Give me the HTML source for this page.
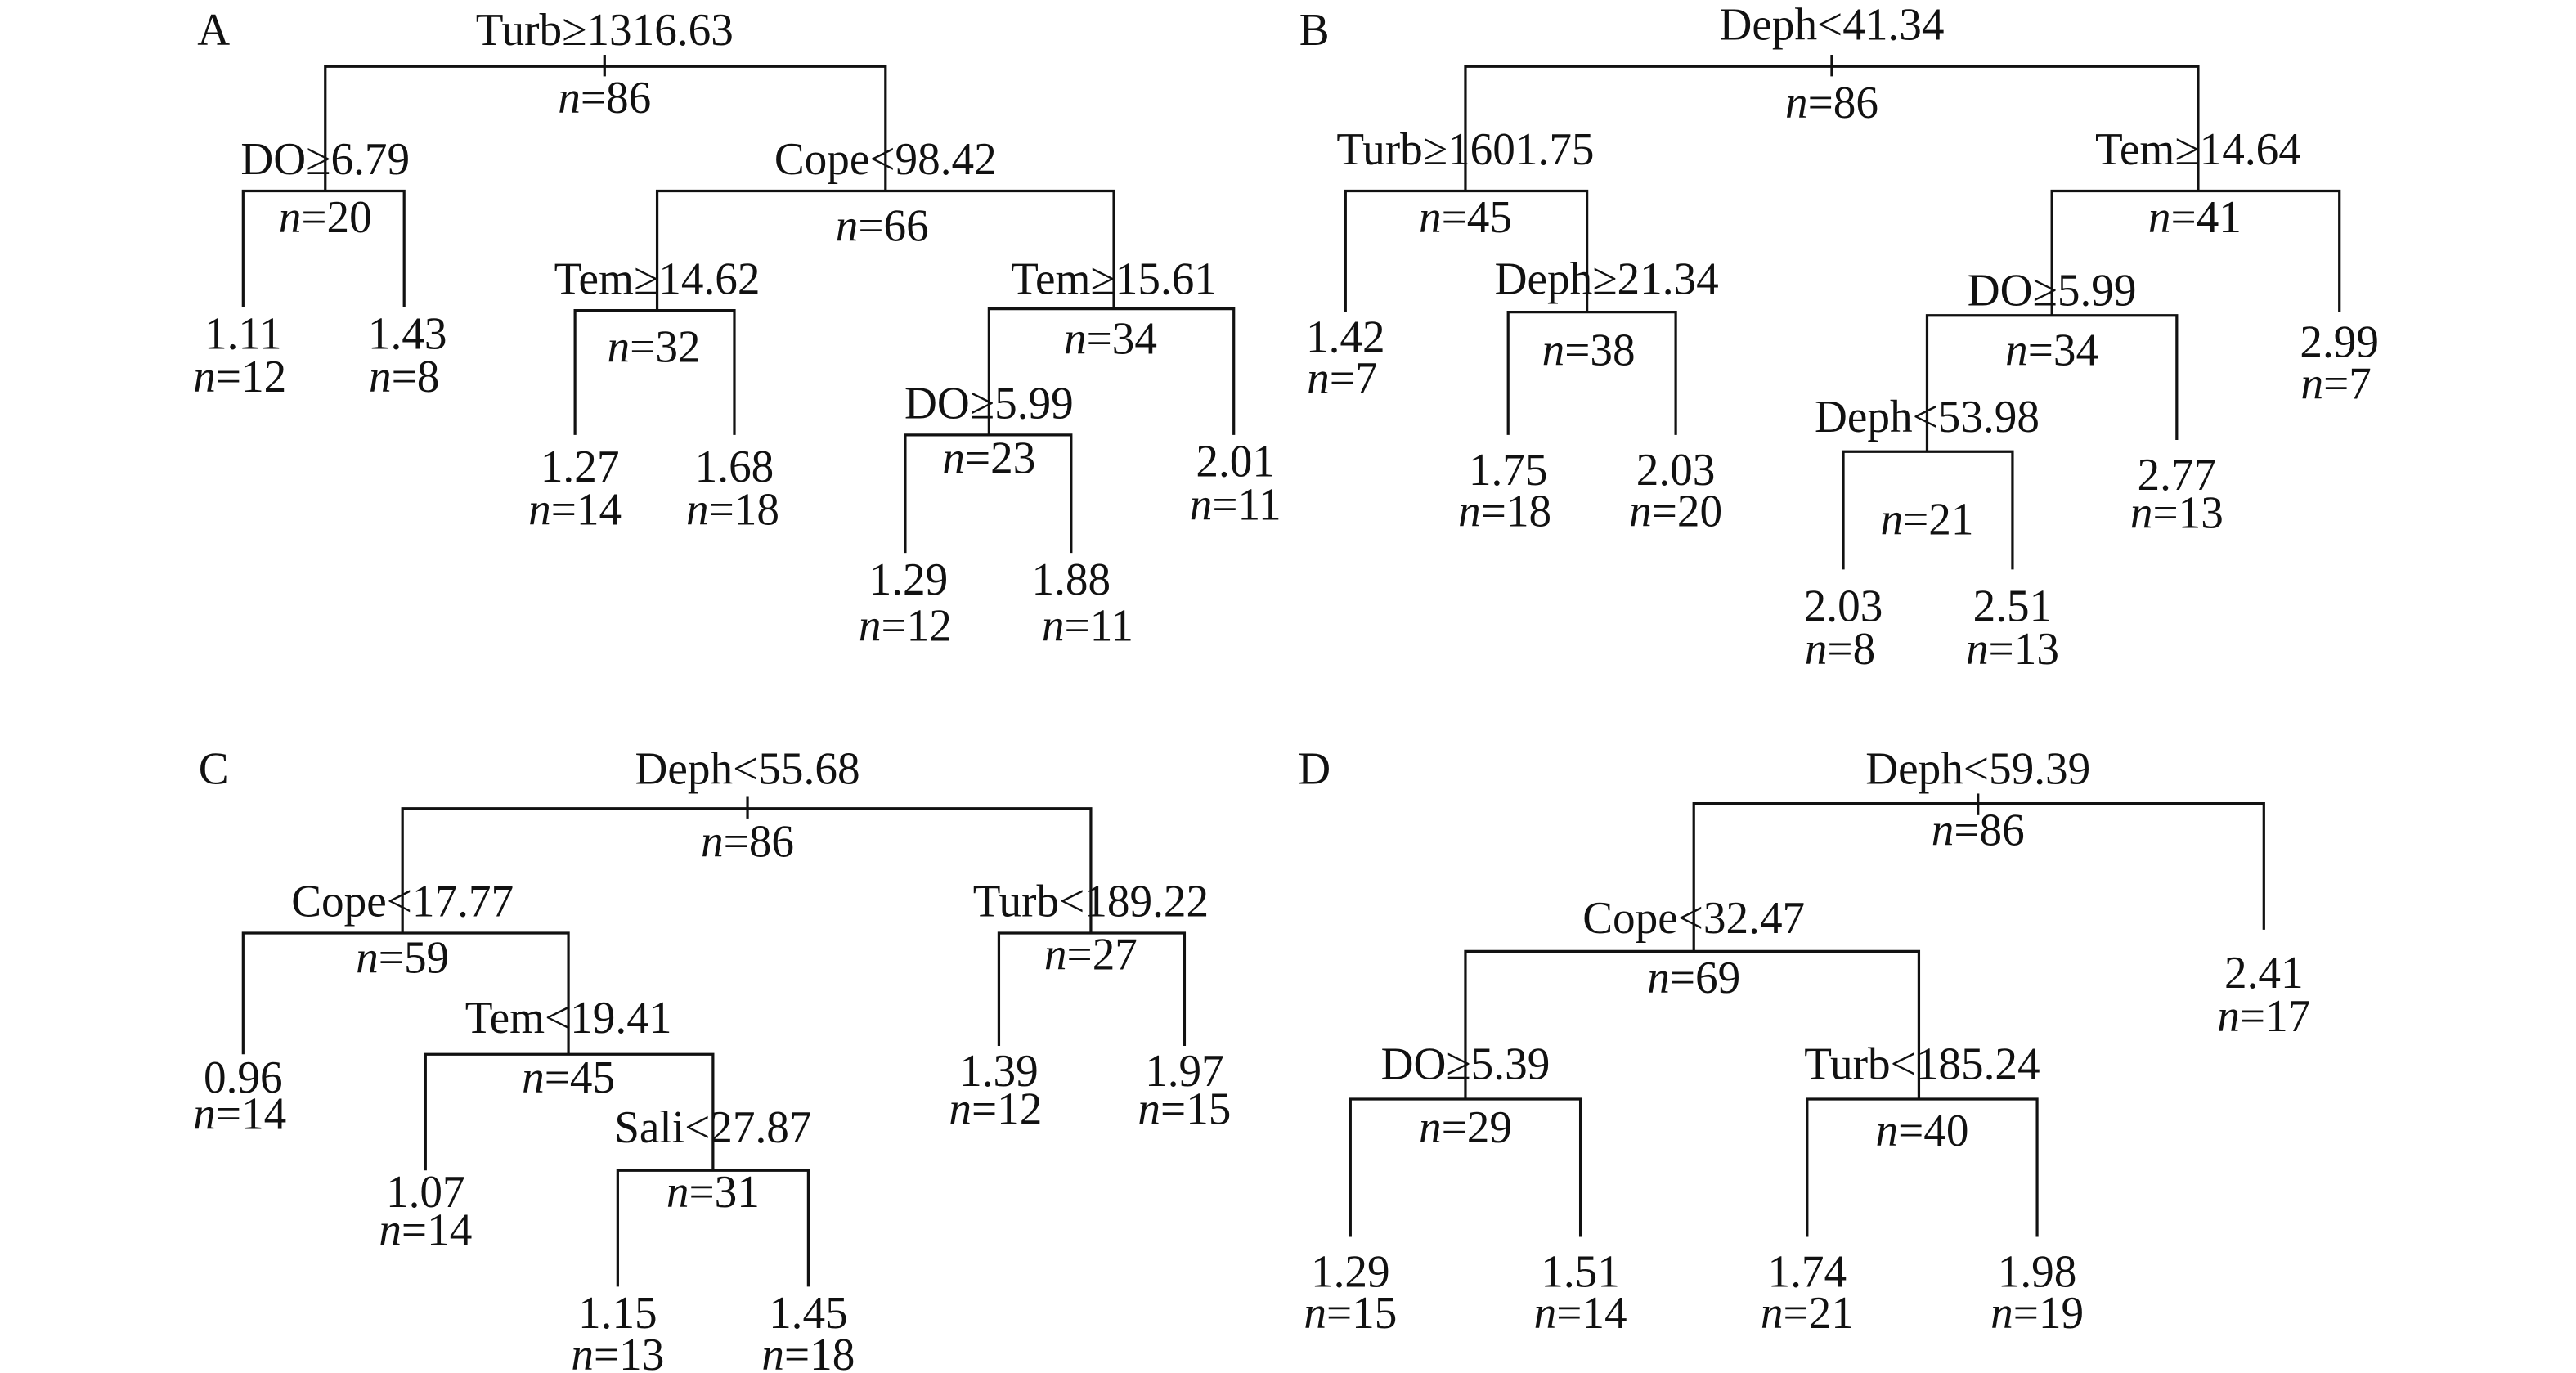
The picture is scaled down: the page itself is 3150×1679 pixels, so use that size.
<!DOCTYPE html>
<html><head><meta charset="utf-8"><style>
html,body{margin:0;padding:0;background:#fff;}
svg{display:block;}
text{font-family:"Liberation Serif",serif;font-size:27.5px;fill:#111;text-anchor:middle;}
line,path{stroke:#111;stroke-width:1.6;fill:none;}
</style></head><body>
<svg width="3150" height="1679" viewBox="0 0 1568 827" preserveAspectRatio="none">
<!-- A -->
<text x="130" y="27">A</text>
<text x="368" y="27">Turb≥1316.63</text>
<line x1="368" y1="33" x2="368" y2="46"/>
<path d="M198 115V40H539V115"/>
<text x="368" y="68"><tspan font-style="italic">n</tspan>=86</text>
<text x="198" y="105">DO≥6.79</text>
<path d="M148 185V115H246V185"/>
<text x="198" y="140"><tspan font-style="italic">n</tspan>=20</text>
<text x="148" y="210">1.11</text><text x="146" y="236"><tspan font-style="italic">n</tspan>=12</text>
<text x="248" y="210">1.43</text><text x="246" y="236"><tspan font-style="italic">n</tspan>=8</text>
<text x="539" y="105">Cope&lt;98.42</text>
<path d="M400 187V115H678V186"/>
<text x="537" y="145"><tspan font-style="italic">n</tspan>=66</text>
<text x="400" y="177">Tem≥14.62</text>
<path d="M350 262V187H447V262"/>
<text x="398" y="218"><tspan font-style="italic">n</tspan>=32</text>
<text x="353" y="290">1.27</text><text x="350" y="316"><tspan font-style="italic">n</tspan>=14</text>
<text x="447" y="290">1.68</text><text x="446" y="316"><tspan font-style="italic">n</tspan>=18</text>
<text x="678" y="177">Tem≥15.61</text>
<path d="M602 262V186H751V262"/>
<text x="676" y="213"><tspan font-style="italic">n</tspan>=34</text>
<text x="752" y="287">2.01</text><text x="752" y="313"><tspan font-style="italic">n</tspan>=11</text>
<text x="602" y="252">DO≥5.99</text>
<path d="M551 333V262H652V333"/>
<text x="602" y="285"><tspan font-style="italic">n</tspan>=23</text>
<text x="553" y="358">1.29</text><text x="551" y="386"><tspan font-style="italic">n</tspan>=12</text>
<text x="652" y="358">1.88</text><text x="662" y="386"><tspan font-style="italic">n</tspan>=11</text>
<!-- B -->
<text x="800" y="27">B</text>
<text x="1115" y="24">Deph&lt;41.34</text>
<line x1="1115" y1="33" x2="1115" y2="46"/>
<path d="M892 115V40H1338V115"/>
<text x="1115" y="71"><tspan font-style="italic">n</tspan>=86</text>
<text x="892" y="99">Turb≥1601.75</text>
<path d="M819 188V115H966V188"/>
<text x="892" y="140"><tspan font-style="italic">n</tspan>=45</text>
<text x="819" y="212">1.42</text><text x="817" y="237"><tspan font-style="italic">n</tspan>=7</text>
<text x="978" y="177">Deph≥21.34</text>
<path d="M918 262V188H1020V262"/>
<text x="967" y="220"><tspan font-style="italic">n</tspan>=38</text>
<text x="918" y="292">1.75</text><text x="916" y="317"><tspan font-style="italic">n</tspan>=18</text>
<text x="1020" y="292">2.03</text><text x="1020" y="317"><tspan font-style="italic">n</tspan>=20</text>
<text x="1338" y="99">Tem≥14.64</text>
<path d="M1249 190V115H1424V188"/>
<text x="1336" y="140"><tspan font-style="italic">n</tspan>=41</text>
<text x="1424" y="215">2.99</text><text x="1422" y="240"><tspan font-style="italic">n</tspan>=7</text>
<text x="1249" y="184">DO≥5.99</text>
<path d="M1173 272V190H1325V265"/>
<text x="1249" y="220"><tspan font-style="italic">n</tspan>=34</text>
<text x="1325" y="295">2.77</text><text x="1325" y="318"><tspan font-style="italic">n</tspan>=13</text>
<text x="1173" y="260">Deph&lt;53.98</text>
<path d="M1122 343V272H1225V343"/>
<text x="1173" y="322"><tspan font-style="italic">n</tspan>=21</text>
<text x="1122" y="374">2.03</text><text x="1120" y="400"><tspan font-style="italic">n</tspan>=8</text>
<text x="1225" y="374">2.51</text><text x="1225" y="400"><tspan font-style="italic">n</tspan>=13</text>
<!-- C -->
<text x="130" y="472">C</text>
<text x="455" y="472">Deph&lt;55.68</text>
<line x1="455" y1="480" x2="455" y2="493"/>
<path d="M245 562V487H664V562"/>
<text x="455" y="516"><tspan font-style="italic">n</tspan>=86</text>
<text x="245" y="552">Cope&lt;17.77</text>
<path d="M148 635V562H346V635"/>
<text x="245" y="586"><tspan font-style="italic">n</tspan>=59</text>
<text x="148" y="658">0.96</text><text x="146" y="680"><tspan font-style="italic">n</tspan>=14</text>
<text x="346" y="622">Tem&lt;19.41</text>
<path d="M259 705V635H434V705"/>
<text x="346" y="658"><tspan font-style="italic">n</tspan>=45</text>
<text x="259" y="727">1.07</text><text x="259" y="750"><tspan font-style="italic">n</tspan>=14</text>
<text x="434" y="688">Sali&lt;27.87</text>
<path d="M376 775V705H492V775"/>
<text x="434" y="727"><tspan font-style="italic">n</tspan>=31</text>
<text x="376" y="800">1.15</text><text x="376" y="825"><tspan font-style="italic">n</tspan>=13</text>
<text x="492" y="800">1.45</text><text x="492" y="825"><tspan font-style="italic">n</tspan>=18</text>
<text x="664" y="552">Turb&lt;189.22</text>
<path d="M608 630V562H721V630"/>
<text x="664" y="584"><tspan font-style="italic">n</tspan>=27</text>
<text x="608" y="654">1.39</text><text x="606" y="677"><tspan font-style="italic">n</tspan>=12</text>
<text x="721" y="654">1.97</text><text x="721" y="677"><tspan font-style="italic">n</tspan>=15</text>
<!-- D -->
<text x="800" y="472">D</text>
<text x="1204" y="472">Deph&lt;59.39</text>
<line x1="1204" y1="478" x2="1204" y2="491"/>
<path d="M1031 573V484H1378V560"/>
<text x="1204" y="509"><tspan font-style="italic">n</tspan>=86</text>
<text x="1378" y="595">2.41</text><text x="1378" y="621"><tspan font-style="italic">n</tspan>=17</text>
<text x="1031" y="562">Cope&lt;32.47</text>
<path d="M892 662V573H1168V662"/>
<text x="1031" y="598"><tspan font-style="italic">n</tspan>=69</text>
<text x="892" y="650">DO≥5.39</text>
<path d="M822 745V662H962V745"/>
<text x="892" y="688"><tspan font-style="italic">n</tspan>=29</text>
<text x="822" y="775">1.29</text><text x="822" y="800"><tspan font-style="italic">n</tspan>=15</text>
<text x="962" y="775">1.51</text><text x="962" y="800"><tspan font-style="italic">n</tspan>=14</text>
<text x="1170" y="650">Turb&lt;185.24</text>
<path d="M1100 745V662H1240V745"/>
<text x="1170" y="690"><tspan font-style="italic">n</tspan>=40</text>
<text x="1100" y="775">1.74</text><text x="1100" y="800"><tspan font-style="italic">n</tspan>=21</text>
<text x="1240" y="775">1.98</text><text x="1240" y="800"><tspan font-style="italic">n</tspan>=19</text>
</svg>
</body></html>
